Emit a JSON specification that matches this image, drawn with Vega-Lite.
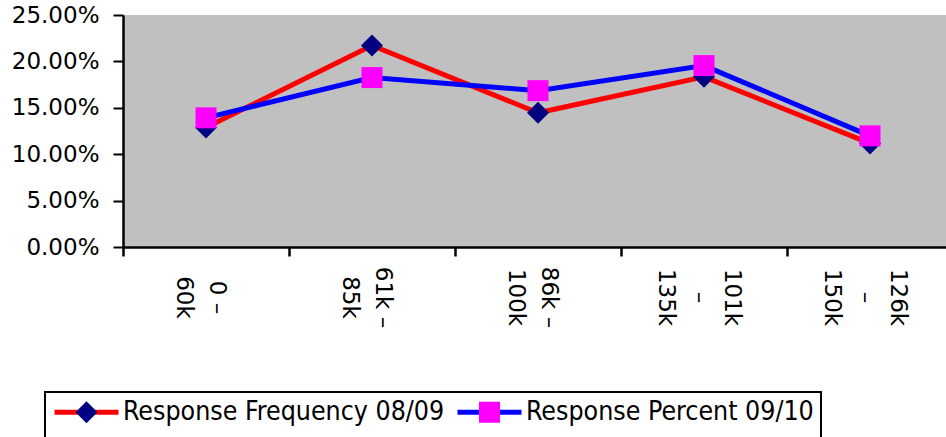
{
  "$schema": "https://vega.github.io/schema/vega-lite/v6.json",
  "width": 823,
  "height": 232,
  "autosize": {"type": "none"},
  "padding": {"left": 123, "top": 15, "right": 0, "bottom": 190},
  "background": "white",
  "config": {
    "view": {"fill": "#C0C0C0", "stroke": null},
    "font": "DejaVu Sans",
    "legend": {"strokeWidth": 2}
  },
  "data": {
    "values": [
      {"range": "0 –|60k", "series": "Response Frequency 08/09", "share": 0.1288},
      {"range": "61k –|85k", "series": "Response Frequency 08/09", "share": 0.2171},
      {"range": "86k –|100k", "series": "Response Frequency 08/09", "share": 0.1446},
      {"range": "101k|–|135k", "series": "Response Frequency 08/09", "share": 0.1834},
      {"range": "126k|–|150k", "series": "Response Frequency 08/09", "share": 0.1116},
      {"range": "0 –|60k", "series": "Response Percent 09/10", "share": 0.1392},
      {"range": "61k –|85k", "series": "Response Percent 09/10", "share": 0.1826},
      {"range": "86k –|100k", "series": "Response Percent 09/10", "share": 0.1685},
      {"range": "101k|–|135k", "series": "Response Percent 09/10", "share": 0.1955},
      {"range": "126k|–|150k", "series": "Response Percent 09/10", "share": 0.1198}
    ]
  },
  "encoding": {
    "x": {
      "field": "range",
      "type": "nominal",
      "sort": null,
      "scale": {"type": "band", "range": [0, 830], "paddingInner": 0, "paddingOuter": 0},
      "axis": {
        "title": null,
        "labelAngle": 90,
        "labelAlign": "center",
        "labelBaseline": "middle",
        "labelExpr": "split(datum.label, '|')",
        "labelFontSize": 23,
        "labelLineHeight": 33,
        "labelPadding": 41,
        "labelOffset": {"expr": "length(split(datum.label, '|')) * 16.5 - 22.5"},
        "labelColor": "black",
        "tickBand": "extent",
        "tickSize": 9,
        "tickWidth": 2.5,
        "tickColor": "black",
        "domainColor": "black",
        "domainWidth": 2.5,
        "grid": false
      }
    },
    "y": {
      "field": "share",
      "type": "quantitative",
      "scale": {"domain": [0, 0.25], "nice": false},
      "axis": {
        "title": null,
        "values": [0, 0.05, 0.1, 0.15, 0.2, 0.25],
        "format": ".2%",
        "labelFontSize": 23,
        "labelPadding": 14,
        "labelColor": "black",
        "tickSize": 10,
        "tickWidth": 2,
        "tickColor": "black",
        "domainColor": "black",
        "domainWidth": 2.5,
        "grid": false
      }
    }
  },
  "layer": [
    {
      "mark": {"type": "line", "strokeWidth": 5, "strokeCap": "butt", "strokeJoin": "miter"},
      "encoding": {
        "stroke": {
          "field": "series",
          "type": "nominal",
          "scale": {"domain": ["Response Frequency 08/09", "Response Percent 09/10"], "range": ["#FF0000", "#0000FF"]},
          "legend": {
            "orient": "none",
            "legendX": -78,
            "legendY": 377,
            "direction": "horizontal",
            "title": " ",
            "titleOrient": "bottom",
            "titleFontSize": 20,
            "titlePadding": 0,
            "symbolType": "M-1,0L-0.25,0M0.25,0L1,0",
            "symbolSize": 4096,
            "symbolStrokeWidth": 5,
            "symbolOffset": 0,
            "clipHeight": 26,
            "labelOffset": 2,
            "labelFont": "DejaVu Sans Condensed",
            "labelFontSize": 26.5,
            "labelLimit": 600,
            "labelOpacity": 0,
            "padding": 7,
            "strokeColor": "black",
            "columnPadding": 10
          }
        }
      }
    },
    {
      "mark": {"type": "point", "filled": true, "opacity": 1, "size": 4096, "strokeWidth": 0},
      "encoding": {
        "fill": {
          "field": "series",
          "type": "nominal",
          "scale": {"range": ["#000080", "#FF00FF"]},
          "legend": {
            "orient": "none",
            "legendX": -78,
            "legendY": 377,
            "direction": "horizontal",
            "title": null,
            "symbolSize": 4096,
            "symbolStrokeWidth": 5,
            "symbolOffset": 0,
            "symbolOpacity": 1,
            "clipHeight": 26,
            "labelOffset": 2,
            "labelFont": "DejaVu Sans Condensed",
            "labelFontSize": 26.5,
            "labelLimit": 600,
            "labelColor": "black",
            "padding": 7,
            "columnPadding": 10
          }
        },
        "shape": {
          "field": "series",
          "type": "nominal",
          "scale": {"range": ["M0,-0.344L0.344,0L0,0.344L-0.344,0Z", "M-0.328,-0.328L0.328,-0.328L0.328,0.328L-0.328,0.328Z"]}
        }
      }
    }
  ]
}
